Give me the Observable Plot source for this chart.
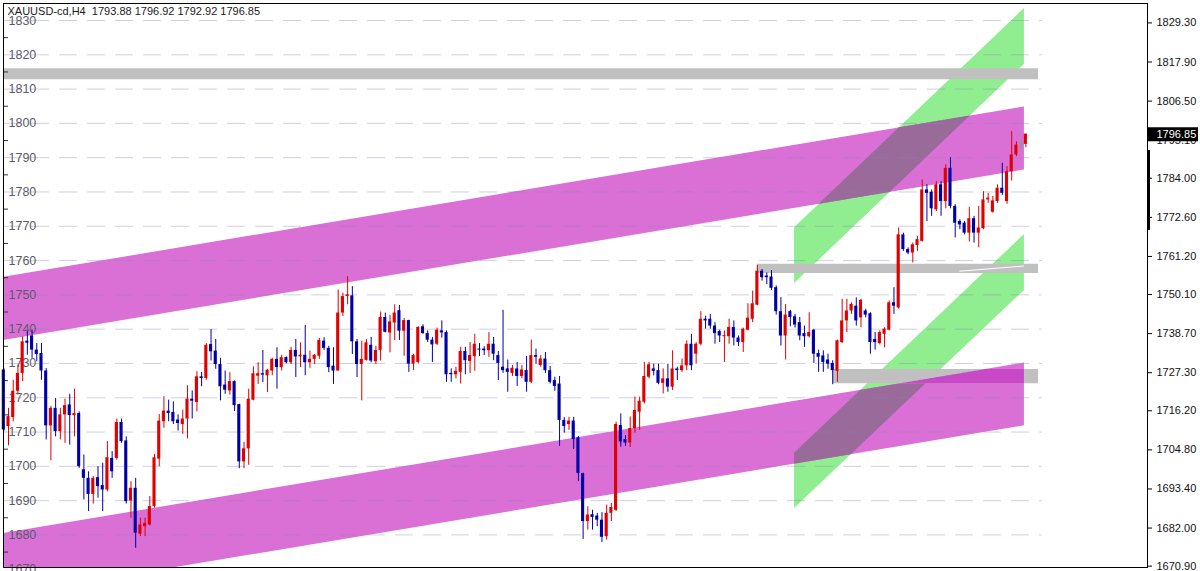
<!DOCTYPE html>
<html><head><meta charset="utf-8">
<script src="https://cdn.jsdelivr.net/npm/d3@7"></script>
<script src="https://cdn.jsdelivr.net/npm/@observablehq/plot@0.6"></script>
<style>html,body{margin:0;padding:0;background:#fff;overflow:hidden}</style>
</head><body><div id="chart"></div>
<script>
const title = "XAUUSD-cd,H4  1793.88 1796.92 1792.92 1796.85";
const opens=[1728.1,1711.6,1714.2,1721.9,1727.1,1736.5,1738.0,1733.9,1732.9,1727.8,
1711.8,1716.9,1710.1,1715.0,1717.9,1714.8,1715.4,1699.0,1696.5,1691.8,
1696.7,1694.4,1693.1,1702.3,1702.3,1712.8,1707.4,1689.9,1693.6,1680.2,
1682.4,1682.9,1688.3,1702.1,1713.0,1716.1,1715.7,1713.5,1712.2,1713.8,
1719.6,1718.6,1726.1,1725.6,1735.5,1733.6,1729.7,1723.7,1722.0,1724.7,
1718.0,1701.3,1705.1,1719.3,1726.3,1727.0,1726.4,1727.8,1731.2,1728.8,
1731.7,1730.2,1733.8,1731.9,1732.4,1730.2,1731.2,1732.1,1736.5,1734.4,
1729.2,1727.8,1744.7,1749.5,1749.7,1736.3,1729.7,1730.9,1735.3,1730.5,
1733.8,1743.4,1738.9,1741.8,1745.4,1739.4,1742.5,1729.8,1730.3,1740.7,
1738.7,1736.8,1735.6,1739.5,1739.0,1727.1,1726.7,1727.4,1733.5,1730.6,
1732.0,1734.2,1734.2,1733.7,1735.6,1732.3,1728.9,1728.4,1727.1,1728.4,
1726.2,1727.9,1724.5,1732.3,1729.4,1731.3,1727.9,1725.0,1724.0,1713.4,
1712.2,1713.2,1708.3,1697.9,1683.9,1685.9,1685.5,1684.3,1679.5,1686.3,
1687.2,1711.9,1707.8,1706.8,1711.0,1715.8,1718.7,1726.0,1728.4,1727.9,
1724.2,1725.5,1723.1,1728.4,1727.9,1729.3,1735.6,1732.7,1735.6,1742.9,
1742.9,1740.9,1739.3,1737.8,1737.8,1740.5,1737.4,1736.1,1739.7,1742.9,
1747.0,1756.9,1755.5,1755.2,1752.1,1745.1,1738.0,1745.1,1743.6,1741.9,
1738.7,1737.8,1739.7,1732.9,1732.2,1731.0,1730.0,1727.7,1736.1,1742.4,
1745.3,1746.7,1743.3,1745.3,1744.5,1737.0,1735.8,1738.5,1739.7,1747.7,
1746.2,1767.5,1763.2,1762.2,1764.4,1765.6,1780.6,1779.9,1774.8,1782.1,
1777.2,1786.9,1775.8,1771.4,1770.9,1768.0,1772.2,1768.0,1769.3,1777.7,
1774.1,1777.2,1781.1,1777.2,1785.9,1790.8,1794.0,1793.88];
const highs=[1728.6,1716.9,1725.1,1729.5,1737.8,1739.2,1739.7,1735.8,1735.8,1728.5,
1717.5,1719.8,1716.9,1719.6,1721.0,1722.5,1715.9,1703.3,1698.4,1697.0,
1699.9,1700.9,1707.2,1704.3,1713.8,1713.8,1708.6,1695.5,1696.5,1684.9,
1684.9,1691.2,1703.5,1715.1,1720.3,1719.3,1718.8,1715.0,1716.4,1723.5,
1722.0,1727.6,1727.4,1735.8,1739.9,1737.0,1731.5,1727.8,1727.3,1724.9,
1718.1,1707.0,1722.5,1729.0,1730.2,1733.8,1728.3,1731.5,1734.6,1732.4,
1731.9,1734.7,1737.0,1736.0,1741.1,1733.6,1732.6,1737.3,1737.5,1735.0,
1734.6,1751.4,1750.5,1755.3,1752.4,1737.0,1736.5,1737.0,1737.6,1735.0,
1745.0,1744.7,1744.0,1747.1,1746.9,1743.1,1742.6,1732.7,1740.7,1741.3,
1739.5,1737.6,1740.3,1742.4,1739.5,1728.4,1728.9,1734.7,1734.7,1736.1,
1738.5,1735.8,1734.9,1739.0,1737.6,1733.5,1745.5,1731.0,1729.4,1730.3,
1729.4,1732.0,1736.8,1734.2,1732.3,1733.2,1729.1,1726.0,1726.2,1714.2,
1714.3,1714.3,1708.7,1698.0,1688.2,1687.2,1686.3,1686.5,1688.7,1689.2,
1712.9,1715.3,1709.0,1714.4,1720.2,1720.2,1730.3,1730.3,1729.8,1729.8,
1728.4,1729.8,1733.7,1728.9,1731.3,1736.6,1738.5,1736.1,1745.1,1743.8,
1744.3,1741.9,1739.7,1739.5,1742.9,1742.4,1738.0,1740.3,1747.4,1751.1,
1758.6,1757.4,1756.4,1757.1,1752.6,1749.2,1747.2,1745.5,1744.3,1743.4,
1740.9,1744.8,1740.0,1733.9,1733.7,1732.7,1730.8,1736.8,1748.7,1748.7,
1747.7,1749.1,1748.7,1745.8,1744.8,1739.0,1739.5,1740.4,1748.2,1752.1,
1769.5,1768.0,1763.7,1765.1,1767.1,1783.5,1782.1,1780.6,1783.0,1783.0,
1787.9,1790.0,1776.3,1771.9,1771.4,1775.5,1772.9,1775.8,1780.1,1779.6,
1778.7,1782.1,1788.4,1787.4,1797.6,1794.6,1794.8,1796.92];
const lows=[1710.1,1706.0,1713.0,1720.8,1724.7,1732.4,1731.5,1730.5,1725.1,1707.7,
1701.6,1708.6,1707.7,1706.7,1706.2,1708.6,1699.4,1690.2,1686.8,1689.0,
1690.7,1686.8,1692.6,1696.5,1701.8,1706.7,1689.0,1684.9,1676.1,1679.5,
1679.5,1682.6,1687.8,1699.9,1711.1,1713.0,1712.2,1710.3,1709.3,1708.0,
1713.8,1715.9,1723.2,1725.1,1730.7,1728.3,1719.1,1721.0,1720.8,1716.0,
1699.3,1699.3,1700.3,1719.1,1723.9,1724.4,1721.5,1726.4,1722.5,1727.8,
1729.9,1729.7,1725.9,1728.8,1726.4,1728.6,1729.7,1731.2,1733.8,1727.3,
1723.9,1727.8,1743.7,1747.1,1732.6,1725.9,1719.1,1730.7,1730.2,1729.7,
1730.7,1738.9,1733.1,1736.7,1736.7,1732.1,1727.4,1727.9,1729.8,1738.5,
1736.1,1730.3,1735.2,1737.4,1724.5,1724.5,1725.5,1724.0,1726.7,1727.1,
1727.7,1732.0,1732.3,1731.8,1730.8,1725.0,1727.1,1721.6,1726.2,1723.3,
1725.5,1721.6,1724.2,1729.8,1728.9,1727.1,1724.0,1721.9,1705.8,1709.7,
1710.5,1704.9,1695.5,1678.7,1681.4,1681.4,1682.4,1677.8,1678.5,1683.9,
1686.8,1705.6,1705.8,1705.5,1709.7,1710.5,1718.2,1725.5,1726.4,1723.8,
1721.1,1721.6,1722.1,1725.0,1727.4,1727.9,1727.9,1729.8,1735.1,1740.0,
1740.0,1735.6,1736.1,1730.3,1735.6,1735.1,1734.9,1733.2,1739.5,1741.9,
1746.8,1754.0,1753.0,1751.3,1744.1,1735.1,1731.0,1740.7,1740.3,1736.6,
1734.7,1737.4,1730.0,1727.4,1727.4,1728.3,1723.8,1724.5,1735.8,1739.0,
1744.3,1740.9,1740.4,1743.3,1732.7,1733.9,1735.4,1734.6,1739.5,1744.3,
1745.8,1762.7,1761.7,1759.3,1762.7,1765.4,1771.4,1772.9,1774.3,1772.9,
1775.1,1775.1,1766.6,1769.0,1767.5,1765.4,1765.1,1763.7,1769.0,1776.7,
1773.8,1776.7,1779.0,1776.4,1783.2,1790.3,1792.2,1792.92];
const closes=[1710.6,1714.5,1721.9,1727.1,1736.3,1735.9,1733.9,1732.6,1727.8,1711.8,
1716.9,1710.1,1715.0,1717.7,1714.8,1715.4,1699.9,1696.5,1691.8,1696.5,
1694.1,1693.1,1702.5,1698.4,1712.8,1707.2,1689.7,1693.6,1680.5,1682.9,
1683.4,1688.3,1702.5,1713.2,1716.1,1715.4,1713.0,1712.5,1713.8,1719.6,
1719.0,1726.1,1725.6,1735.3,1733.4,1729.7,1723.2,1722.2,1724.7,1717.7,
1701.3,1705.1,1719.6,1727.0,1727.0,1726.6,1728.0,1731.2,1728.8,1731.7,
1730.2,1733.8,1731.9,1732.4,1730.2,1731.2,1732.4,1736.7,1734.4,1728.8,
1727.8,1744.7,1749.5,1750.0,1736.3,1729.7,1731.2,1736.0,1730.7,1733.8,
1743.4,1739.1,1742.1,1744.7,1739.4,1742.5,1729.8,1732.3,1740.5,1738.7,
1736.8,1735.4,1739.7,1738.9,1726.7,1726.7,1727.7,1733.5,1730.8,1732.3,
1735.6,1733.9,1733.7,1735.6,1732.7,1730.0,1727.9,1727.4,1728.6,1726.2,
1728.1,1724.5,1732.3,1731.8,1731.3,1727.9,1724.5,1723.3,1713.4,1711.6,
1713.2,1707.8,1697.9,1683.9,1685.8,1685.1,1684.3,1679.3,1686.3,1688.0,
1712.2,1707.1,1706.8,1711.0,1716.3,1719.0,1726.2,1729.6,1727.7,1724.2,
1725.5,1723.1,1728.4,1727.9,1729.3,1735.6,1729.3,1735.6,1742.9,1742.4,
1740.9,1738.7,1738.0,1738.1,1740.5,1737.4,1736.1,1740.0,1743.2,1747.4,
1756.9,1755.0,1755.0,1751.9,1745.1,1738.0,1744.1,1743.4,1741.2,1738.0,
1737.8,1739.0,1732.7,1731.8,1730.3,1729.8,1727.9,1736.6,1742.4,1745.3,
1747.2,1742.4,1748.4,1744.1,1736.1,1736.1,1739.0,1740.0,1747.7,1746.7,
1767.5,1763.2,1762.2,1764.6,1766.1,1780.6,1779.6,1775.1,1782.1,1777.2,
1786.9,1775.8,1770.9,1770.4,1768.0,1772.2,1768.0,1769.5,1777.7,1778.2,
1777.4,1781.1,1779.6,1785.9,1790.8,1793.7,1794.0,1796.85];

// Regression channel (magenta) edges: [value at left end, value at right end]
const channelEnds = [-0.1, 216.7];
const upperTop = [1755.1, 1804.8];
const upperBottom = [1736.7, 1786.4];
const lowerTop = [1680.4, 1730.1];
const lowerBottom = [1662.1, 1711.8];
// Green parallelograms
const greenEnds = [167.9, 216.7];
const greenUpperTop = [1769.6, 1833.5];
const greenUpperBottom = [1753.3, 1817.2];
const greenLowerTop = [1703.8, 1767.6];
const greenLowerBottom = [1687.7, 1751.3];
// Gray support/resistance zones
const zoneStart = [-0.1, 160, 176];
const zoneEnd = [219.7, 219.7, 219.7];
const zoneLow = [1812.7, 1756.2, 1724.1];
const zoneHigh = [1815.9, 1758.9, 1728.2];
// White trendline through middle zone
const whiteLineX = [203, 216.5];
const whiteLineY = [1756.9, 1758.4];

const leftLabels = d3.range(1670, 1831, 10);
const leftMinor = d3.range(1675, 1830, 10);
const rightTicks = [1829.30,1817.90,1806.50,1795.10,1784.00,1772.60,1761.20,1750.10,1738.70,1727.30,1716.20,1704.80,1693.40,1682.00,1670.90];
const lastPrice = 1796.85;
const scrollBar = [1768.8, 1792.1];

const X0 = -0.064, X1 = 242.83;
const pxPerBar = 4.71;

const candles = opens.map((o, i) => ({i, o, h: highs[i], l: lows[i], c: closes[i]}));
const col = d => d.c > d.o ? "#e00000" : d.c < d.o ? "#0000a8" : "#50b850";

// a filled object = straight lower and upper edges between two x ends
const shape = (ends, lo, hi) => ({ends, lo, hi});
const at = (s, arr, x) => arr[0] + (arr[1] - arr[0]) * (x - s.ends[0]) / (s.ends[1] - s.ends[0]);
const pts = s => s.ends.map((x, k) => ({x, lo: s.lo[k], hi: s.hi[k]}));
const channels = [shape(channelEnds, upperBottom, upperTop), shape(channelEnds, lowerBottom, lowerTop)];
const greens = [shape(greenEnds, greenUpperBottom, greenUpperTop), shape(greenEnds, greenLowerBottom, greenLowerTop)];
const zones = zoneStart.map((s, k) => shape([s, zoneEnd[k]], [zoneLow[k], zoneLow[k]], [zoneHigh[k], zoneHigh[k]]));

// region where two filled objects overlap (the terminal mixes their colours there)
function overlap(a, b) {
  const x0 = Math.max(a.ends[0], b.ends[0]), x1 = Math.min(a.ends[1], b.ends[1]);
  if (x1 <= x0) return [];
  return d3.range(x0, x1, 0.25).concat([x1]).map(x => {
    const lo = Math.max(at(a, a.lo, x), at(b, b.lo, x));
    const hi = Math.max(lo, Math.min(at(a, a.hi, x), at(b, b.hi, x)));
    return {x, lo, hi};
  });
}
const greenChannel = [];
for (const g of greens) for (const c of channels) greenChannel.push(overlap(g, c));
const grayChannel = [];
for (const z of zones) for (const c of channels) grayChannel.push(overlap(z, c));

const area = (data, fill) => Plot.areaY(data, {x: "x", y1: "lo", y2: "hi", fill, clip: true});

const chart = Plot.plot({
  width: 1200, height: 571,
  marginLeft: 3, marginRight: 53, marginTop: 3, marginBottom: 4,
  style: {fontFamily: "'Liberation Sans', Arial, sans-serif", background: "#fff", overflow: "visible"},
  x: {domain: [X0, X1], axis: null},
  y: {domain: [1670.5, 1834.96], axis: null},
  marks: [
    ...greens.map(g => area(pts(g), "#90EE90")),
    ...channels.map(c => area(pts(c), "#DA70D6")),
    ...greenChannel.map(d => area(d, "#9A6A9A")),
    ...zones.map(z => area(pts(z), "#C0C0C0")),
    ...grayChannel.map(d => area(d, "#C848C8")),
    Plot.line(whiteLineX.map((x, k) => ({x, y: whiteLineY[k]})), {x: "x", y: "y", stroke: "#fff", strokeWidth: 1}),
    Plot.ruleY(leftLabels, {x1: X0, x2: 220.5, stroke: "#8888bb", strokeOpacity: 0.4, strokeDasharray: "18,10", clip: true}),
    Plot.ruleY(leftMinor, {x1: X0, x2: X0 + 5 / pxPerBar, stroke: "#333"}),
    Plot.text(leftLabels, {y: d => d, frameAnchor: "left", dx: 5, text: d => String(d), textAnchor: "start", fill: "#5a5a6a", fontSize: 12.5}),
    Plot.ruleX(candles, {x: "i", y1: "l", y2: "h", stroke: col, strokeWidth: 1}),
    Plot.rect(candles, {x1: d => d.i - 0.33, x2: d => d.i + 0.33, y1: "o", y2: "c", fill: col}),
    Plot.frame({stroke: "#000"}),
    Plot.ruleY(rightTicks, {x1: X1, x2: X1 + 5 / pxPerBar, stroke: "#000"}),
    Plot.text(rightTicks, {x: X1, y: d => d, dx: 9, text: d => d.toFixed(2), textAnchor: "start", fill: "#111", fontSize: 11}),
    Plot.ruleX([X1], {y1: scrollBar[0], y2: scrollBar[1], stroke: "#000", strokeWidth: 3, dx: 1}),
    Plot.ruleY([lastPrice], {x1: X1 + 0.2, x2: X1 + 51 / pxPerBar, stroke: "#000", strokeWidth: 14}),
    Plot.text([lastPrice], {x: X1, y: d => d, dx: 9, text: d => d.toFixed(2), textAnchor: "start", fill: "#fff", fontSize: 11}),
    Plot.text([title], {frameAnchor: "top-left", dx: 4, dy: 4, lineAnchor: "top", textAnchor: "start", fill: "#1a1a1a", fontSize: 11})
  ]
});
document.getElementById("chart").appendChild(chart);
</script>
</body></html>
